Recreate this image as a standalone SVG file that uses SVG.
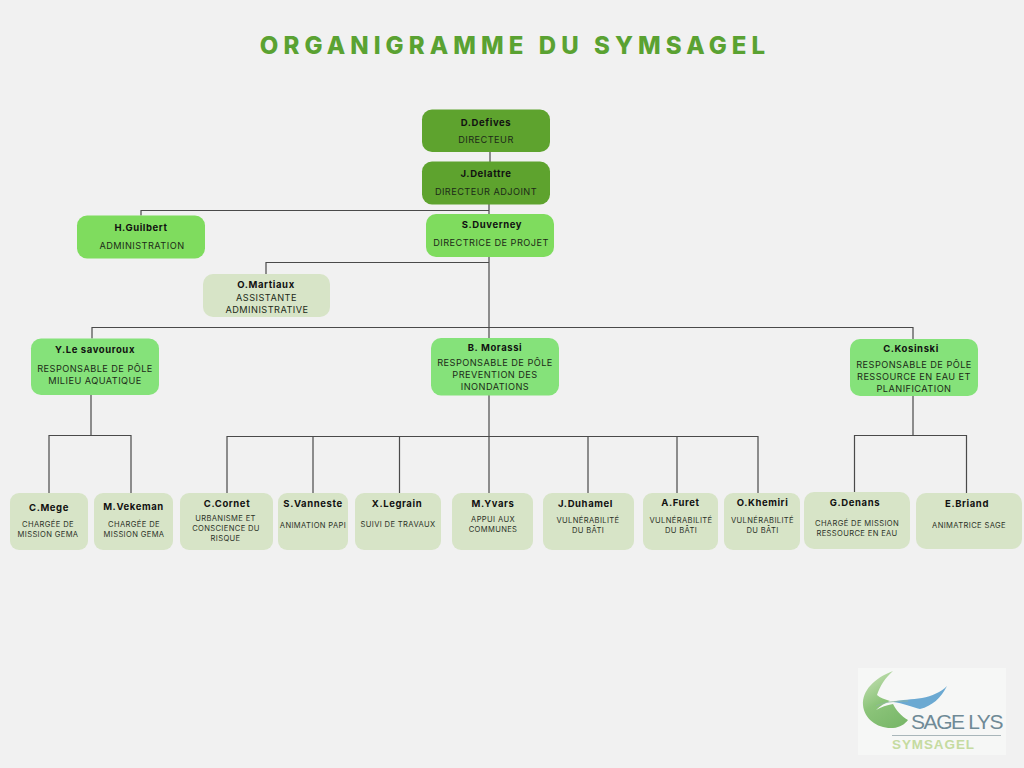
<svg xmlns="http://www.w3.org/2000/svg" width="1024" height="768" viewBox="0 0 1024 768">
<style>
text{font-family:"Inter","Liberation Sans",sans-serif;text-anchor:middle;fill:#1c2a18}
.title{font-size:24px;font-weight:800;letter-spacing:5.08px;fill:#5aa232}
.n{font-size:9.5px;font-weight:700;letter-spacing:.6px;fill:#111}
.r{font-size:9.2px;letter-spacing:.45px}
.s{font-size:7.6px;letter-spacing:.35px;fill:#2c3328}
.d{fill:#5ea32e}.m{fill:#7fdc5e}.m2{fill:#85e27a}.l{fill:#d7e4c7}
#connectors path{fill:none;stroke:#4a4a4a;stroke-width:1.2}
</style>
<defs>
<linearGradient id="lg" x1="0.2" y1="0" x2="0.7" y2="1"><stop offset="0" stop-color="#c5e0b4"/><stop offset="0.5" stop-color="#8cc47a"/><stop offset="1" stop-color="#7ab86a"/></linearGradient>
</defs>
<rect width="1024" height="768" fill="#f1f1f1"/>
<text class="title" x="515" y="54">ORGANIGRAMME DU SYMSAGEL</text>
<g id="connectors">
<path d="M490 152V162M489 204V214M141 215.500V210.500H489M489 257V493M266 274V262.500H489M92 338.500V327.500H913V339M91 395V435.500M49 493V435.500H131V493M227 493V436.500H758V493M313 436.500V493M399.500 436.500V493M588 436.500V493M677 436.500V493M913 396V435.500M854.500 492V435.500H966.500V493"/>
</g>
<g id="n-defives"><rect class="d" x="422" y="109.500" width="128" height="42.500" rx="10"/><text class="n" x="486" y="126">D.Defives</text><text class="r" x="486" y="143">DIRECTEUR</text></g>
<g id="n-delattre"><rect class="d" x="422" y="161.500" width="128" height="43" rx="10"/><text class="n" x="486" y="177">J.Delattre</text><text class="r" x="486" y="195">DIRECTEUR ADJOINT</text></g>
<g id="n-duverney"><rect class="m" x="426" y="214" width="128" height="43" rx="10"/><text class="n" x="492" y="228">S.Duverney</text><text class="r" x="491" y="246">DIRECTRICE DE PROJET</text></g>
<g id="n-guilbert"><rect class="m" x="77" y="215.500" width="128" height="43" rx="10"/><text class="n" x="141" y="231">H.Guilbert</text><text class="r" x="142" y="249">ADMINISTRATION</text></g>
<g id="n-martiaux"><rect class="l" x="203" y="274" width="127" height="43" rx="10"/><text class="n" x="266" y="288">O.Martiaux</text><text class="r" x="266.500" y="301">ASSISTANTE</text><text class="r" x="267" y="313">ADMINISTRATIVE</text></g>
<g id="n-lesavouroux"><rect class="m2" x="31" y="338.500" width="128" height="56.500" rx="10"/><text class="n" x="95" y="353">Y.Le savouroux</text><text class="r" x="95" y="372">RESPONSABLE DE PÔLE</text><text class="r" x="95" y="384">MILIEU AQUATIQUE</text></g>
<g id="n-morassi"><rect class="m2" x="431" y="338" width="128" height="57.500" rx="10"/><text class="n" x="495" y="351">B. Morassi</text><text class="r" x="495" y="366">RESPONSABLE DE PÔLE</text><text class="r" x="495" y="378">PREVENTION DES</text><text class="r" x="495" y="390">INONDATIONS</text></g>
<g id="n-kosinski"><rect class="m2" x="850" y="339" width="128" height="57" rx="10"/><text class="n" x="911" y="352">C.Kosinski</text><text class="r" x="914" y="368">RESPONSABLE DE PÔLE</text><text class="r" x="914" y="380">RESSOURCE EN EAU ET</text><text class="r" x="914" y="392">PLANIFICATION</text></g>
<g id="n-mege"><rect class="l" x="10" y="493" width="78" height="57" rx="9"/><text class="n" x="49" y="510.500">C.Mege</text><text class="s" x="48" y="527">CHARGÉE DE</text><text class="s" x="48" y="537">MISSION GEMA</text></g>
<g id="n-vekeman"><rect class="l" x="94" y="493" width="79" height="57" rx="9"/><text class="n" x="133.500" y="509.500">M.Vekeman</text><text class="s" x="134" y="527">CHARGÉE DE</text><text class="s" x="134" y="537">MISSION GEMA</text></g>
<g id="n-cornet"><rect class="l" x="180" y="493" width="93" height="57" rx="9"/><text class="n" x="227" y="506.500">C.Cornet</text><text class="s" x="225.500" y="521">URBANISME ET</text><text class="s" x="226" y="531">CONSCIENCE DU</text><text class="s" x="225.500" y="540.500">RISQUE</text></g>
<g id="n-vanneste"><rect class="l" x="278" y="493" width="70" height="57" rx="9"/><text class="n" x="313" y="507">S.Vanneste</text><text class="s" x="313" y="528">ANIMATION PAPI</text></g>
<g id="n-legrain"><rect class="l" x="355" y="493" width="86" height="57" rx="9"/><text class="n" x="397" y="507">X.Legrain</text><text class="s" x="398" y="527">SUIVI DE TRAVAUX</text></g>
<g id="n-yvars"><rect class="l" x="452" y="493" width="81" height="57" rx="9"/><text class="n" x="493" y="507">M.Yvars</text><text class="s" x="493" y="522">APPUI AUX</text><text class="s" x="493" y="532">COMMUNES</text></g>
<g id="n-duhamel"><rect class="l" x="543" y="493" width="91" height="57" rx="9"/><text class="n" x="585.500" y="507">J.Duhamel</text><text class="s" x="588" y="523">VULNÉRABILITÉ</text><text class="s" x="588" y="533">DU BÂTI</text></g>
<g id="n-furet"><rect class="l" x="643" y="493" width="75" height="57" rx="9"/><text class="n" x="680.500" y="506">A.Furet</text><text class="s" x="681" y="523">VULNÉRABILITÉ</text><text class="s" x="681" y="533">DU BÂTI</text></g>
<g id="n-khemiri"><rect class="l" x="724" y="493" width="76" height="57" rx="9"/><text class="n" x="762.500" y="506">O.Khemiri</text><text class="s" x="762.500" y="523">VULNÉRABILITÉ</text><text class="s" x="762.500" y="533">DU BÂTI</text></g>
<g id="n-denans"><rect class="l" x="804" y="492" width="106" height="57" rx="10"/><text class="n" x="855" y="506">G.Denans</text><text class="s" x="857" y="526">CHARGÉ DE MISSION</text><text class="s" x="857" y="536">RESSOURCE EN EAU</text></g>
<g id="n-briand"><rect class="l" x="916" y="493" width="106" height="56" rx="10"/><text class="n" x="967" y="507">E.Briand</text><text class="s" x="969" y="528">ANIMATRICE SAGE</text></g>
<g id="logo">
<rect x="858" y="668" width="148" height="87" fill="#f6f7f6"/>
<path d="M893 671C874 678 862 691 863 705C864 719 878 729 893 728C900 727.500 905 724 908 720C901 716 896 710 893 704C887 705 881 707 876 710C880 706 885 703 890 701C885 699 880 698 877 695C880 686 885 678 893 671Z" fill="url(#lg)"/>
<path d="M893 702C902 699 912 700 922 698C932 696 941 692 947 686C941 698 932 706 920 709C912 707 903 703 893 702Z" fill="#6ba9d2"/>
<path d="M876 706C884 702 894 701 908 701" fill="none" stroke="#8fb6a0" stroke-width=".8"/>
<text x="956.500" y="729" style="font-family:'Liberation Sans',sans-serif;font-size:21px;fill:#6f8a96;letter-spacing:-1.4px;text-anchor:middle">SAGE LYS</text>
<rect x="892" y="735" width="109" height="1" fill="#a9b6ba"/>
<text x="933.500" y="748.500" style="font-family:'Liberation Sans',sans-serif;font-size:13.500px;font-weight:700;fill:#c5dba0;letter-spacing:.9px;text-anchor:middle">SYMSAGEL</text>
</g>
</svg>
